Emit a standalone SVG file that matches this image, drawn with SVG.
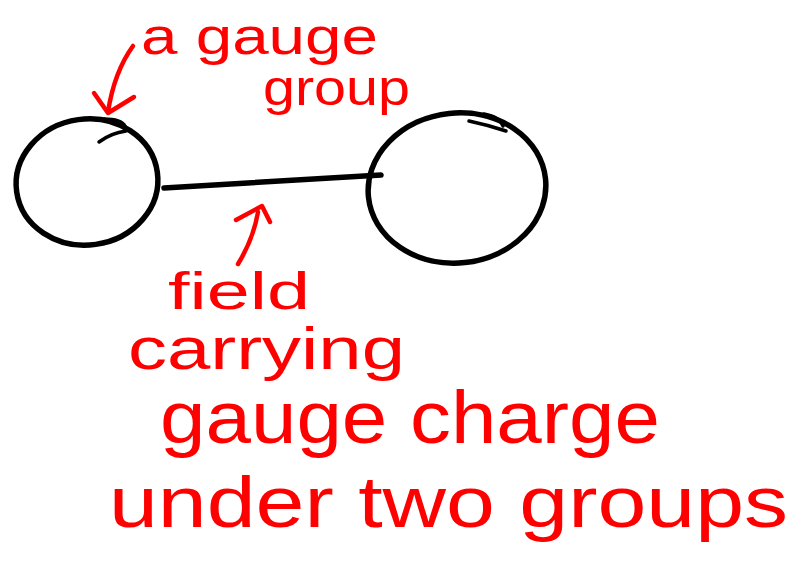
<svg xmlns="http://www.w3.org/2000/svg" width="791" height="571" viewBox="0 0 791 571">
<style>
.ink{fill:none;stroke:#000;stroke-width:5.5;stroke-linecap:round;stroke-linejoin:round}
.tail{fill:none;stroke:#000;stroke-width:3.5;stroke-linecap:round}
.red{fill:none;stroke:#ff0000;stroke-width:4.5;stroke-linecap:round;stroke-linejoin:round}
.lbl{fill:#ff0000;font-family:"Liberation Sans","DejaVu Sans",sans-serif}
</style>
<rect width="791" height="571" fill="#fff"/>
<g id="left-group">
<ellipse class="ink" cx="87" cy="182" rx="71" ry="63" transform="rotate(-8 87 182)"/>
<path class="tail" d="M 99 142 Q 111 133 126 131"/>
<path class="tail" d="M 104 119 Q 121 119 125 126"/>
</g>
<g id="right-group">
<ellipse class="ink" cx="457" cy="188" rx="89" ry="75" transform="rotate(-6 457 188)"/>
<path class="tail" d="M 469 121 Q 488 125 506 131"/>
<path class="tail" d="M 484 114 Q 500 117 503 126"/>
</g>
<g id="connectors">
<path class="ink" d="M 164 188 L 381 175"/>
<path class="red" d="M 133 46 C 120 64 112 86 108 112"/>
<path class="red" d="M 94 93 L 108 113 L 134 97"/>
<path class="red" d="M 238 264 C 249 246 255 230 258 212"/>
<path class="red" d="M 236 220 L 262 206 L 270 222"/>
</g>
<g id="label-gauge-group">
<text class="lbl" x="141" y="54" font-size="52" textLength="237" lengthAdjust="spacingAndGlyphs">a gauge</text>
<text class="lbl" x="263" y="105" font-size="50" textLength="147" lengthAdjust="spacingAndGlyphs">group</text>
</g>
<g id="label-field">
<text class="lbl" x="168" y="309" font-size="52" textLength="142" lengthAdjust="spacingAndGlyphs">field</text>
<text class="lbl" x="128" y="369" font-size="60" textLength="277" lengthAdjust="spacingAndGlyphs">carrying</text>
<text class="lbl" x="160" y="443" font-size="74" textLength="500" lengthAdjust="spacingAndGlyphs">gauge charge</text>
<text class="lbl" x="109" y="527" font-size="72" textLength="679" lengthAdjust="spacingAndGlyphs">under two groups</text>
</g>
</svg>
